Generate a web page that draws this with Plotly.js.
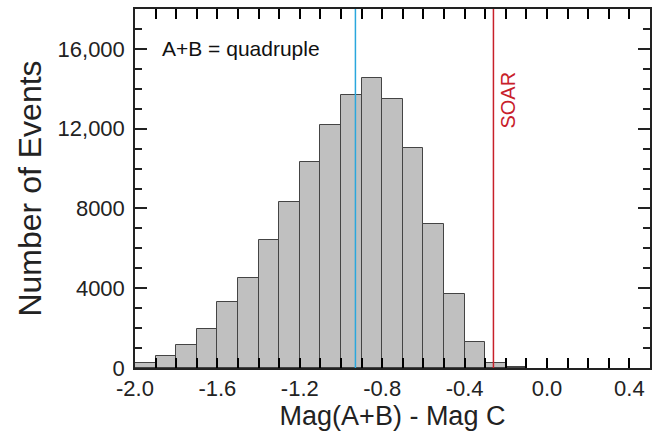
<!DOCTYPE html>
<html>
<head>
<meta charset="utf-8">
<script src="https://cdn.plot.ly/plotly-3.0.1.min.js"></script>
<style>html,body{margin:0;padding:0;background:#fff;}#chart{width:663px;height:435px;}</style>
</head>
<body>
<div id="chart"></div>
<script>
// Bin centres of Mag(A+B) - Mag C histogram (bin width 0.1)
const binCenters = [-1.95, -1.85, -1.75, -1.65, -1.55, -1.45, -1.35, -1.25, -1.15, -1.05,
                    -0.95, -0.85, -0.75, -0.65, -0.55, -0.45, -0.35, -0.25, -0.15];
const counts = [250, 600, 1150, 1950, 3300, 4500, 6400, 8300, 10350, 12200,
                13700, 14550, 13500, 11050, 7200, 3700, 1300, 250, 30];
const binWidth = 0.1;
// Reference lines
const lineNames = ["mean", "SOAR"];
const lineValues = [-0.93, -0.26];
const lineColors = ["#2aa7dd", "#c8202a"];
// Axis ticks (x: a tick every 0.1, labelled every 0.4)
const xTickVals = [-2.0, -1.9, -1.8, -1.7, -1.6, -1.5, -1.4, -1.3, -1.2, -1.1, -1.0, -0.9, -0.8,
                   -0.7, -0.6, -0.5, -0.4, -0.3, -0.2, -0.1, 0.0, 0.1, 0.2, 0.3, 0.4];
const xTickText = ["-2.0", "", "", "", "-1.6", "", "", "", "-1.2", "", "", "", "-0.8",
                   "", "", "", "-0.4", "", "", "", "0.0", "", "", "", "0.4"];
const yTickVals = [0, 4000, 8000, 12000, 16000];
const yTickText = ["0", "4000", "8000", "12,000", "16,000"];

const font = "Liberation Sans, Arial, Helvetica, sans-serif";
const ink = "#222222";

const trace = {
  type: "bar",
  x: binCenters,
  y: counts,
  width: binCenters.map(() => binWidth),
  marker: { color: "#c0c0c0", line: { color: "#444444", width: 1 } },
  hoverinfo: "x+y"
};
// invisible companion trace so the top (mirror) x axis is drawn
const topTrace = {
  type: "scatter", mode: "markers",
  x: binCenters, y: counts,
  xaxis: "x2", yaxis: "y",
  marker: { opacity: 0, size: 1 },
  hoverinfo: "skip", showlegend: false
};

const shapes = lineValues.map((v, i) => ({
  type: "line", xref: "x", yref: "paper",
  x0: v, x1: v, y0: 0, y1: 1,
  line: { color: lineColors[i], width: 1.5 }
}));

const xTickStyle = {
  range: [-2.0, 0.5],
  tickmode: "array", tickvals: xTickVals,
  ticks: "inside", ticklen: 10, tickwidth: 2, tickcolor: "black",
  showgrid: false, zeroline: false
};

const layout = {
  width: 663, height: 435,
  margin: { l: 135, r: 13, t: 9, b: 67 },
  paper_bgcolor: "#ffffff", plot_bgcolor: "#ffffff",
  showlegend: false,
  bargap: 0,
  font: { family: font, color: ink },
  xaxis: Object.assign({}, xTickStyle, {
    ticktext: xTickText,
    showline: true, linecolor: ink, linewidth: 1.5, mirror: true,
    tickfont: { size: 22, family: font, color: ink },
    title: { text: "Mag(A+B) - Mag C", font: { size: 27, family: font, color: ink }, standoff: 2 }
  }),
  xaxis2: Object.assign({}, xTickStyle, {
    overlaying: "x", anchor: "y", side: "top",
    showticklabels: false, showline: false
  }),
  yaxis: {
    range: [0, 18000],
    tickmode: "array", tickvals: yTickVals, ticktext: yTickText,
    ticks: "inside", ticklen: 12, tickwidth: 1.5, tickcolor: ink,
    minor: { dtick: 1000, tick0: 0, ticks: "inside", ticklen: 7, tickwidth: 1.5, tickcolor: ink },
    showline: true, linecolor: ink, linewidth: 1.5, mirror: "ticks",
    showgrid: false, zeroline: false,
    tickfont: { size: 22, family: font, color: ink },
    ticklabelstandoff: 4,
    title: { text: "Number of Events", font: { size: 32, family: font, color: ink }, standoff: 6 }
  },
  shapes: shapes,
  annotations: [
    { xref: "x", yref: "y", x: -1.88, y: 16000, xanchor: "left", yanchor: "middle",
      text: "A+B = quadruple", showarrow: false, font: { size: 21, family: font, color: "#111" } },
    { xref: "x", yref: "y", x: -0.19, y: 13450, xanchor: "center", yanchor: "middle",
      text: lineNames[1], textangle: -90, showarrow: false, font: { size: 20, family: font, color: lineColors[1] } }
  ]
};

Plotly.newPlot("chart", [trace, topTrace], layout, { displayModeBar: false });
</script>
</body>
</html>
